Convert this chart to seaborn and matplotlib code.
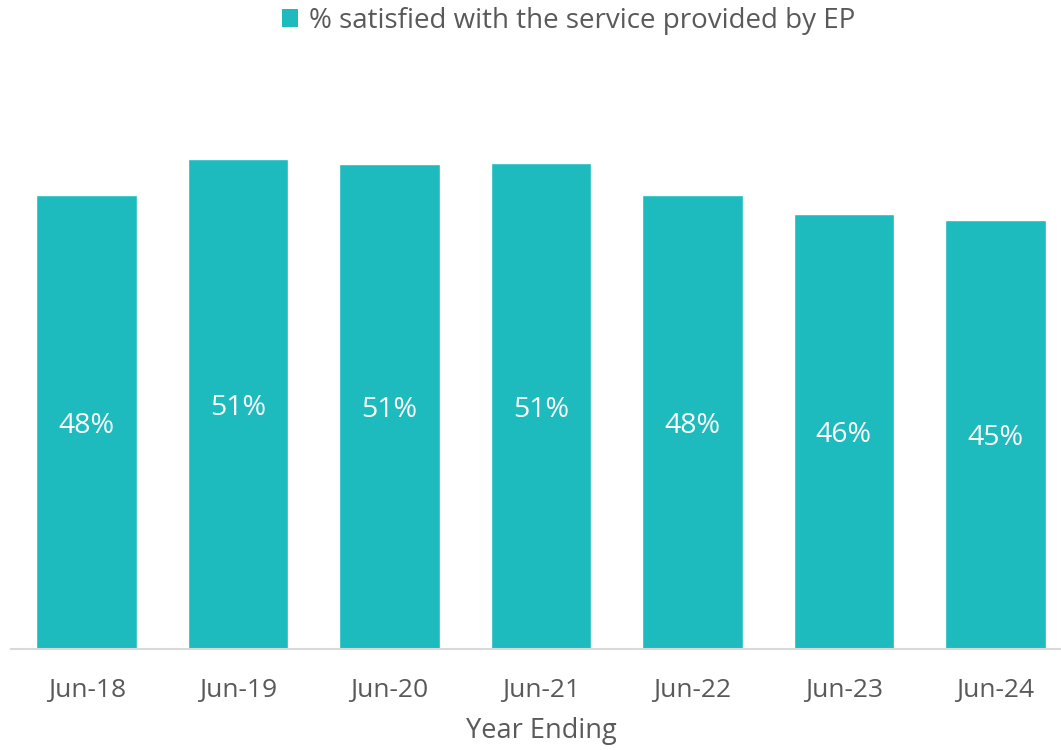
import numpy as np
import pandas as pd
import matplotlib
matplotlib.use('Agg')
import matplotlib.pyplot as plt
import seaborn as sns
from matplotlib.patches import Patch

# data
years = ['Jun-18', 'Jun-19', 'Jun-20', 'Jun-21', 'Jun-22', 'Jun-23', 'Jun-24']
satisfied = [48.0, 51.8, 51.3, 51.4, 48.0, 46.0, 45.4]
labels = ['48%', '51%', '51%', '51%', '48%', '46%', '45%']
series_name = '% satisfied with the service provided by EP'

BAR_COLOR = '#1DBABE'
TEXT_COLOR = '#595959'

sns.set_theme(style='white')
plt.rcParams['font.family'] = ['Open Sans', 'DejaVu Sans']

df = pd.DataFrame({'year': years, 'value': satisfied})

fig = plt.figure(figsize=(10.61, 7.5), dpi=100)
ax = fig.add_axes([11 / 1061, 101 / 750, 1060 / 1061, 567 / 750])

sns.barplot(data=df, x='year', y='value', color=BAR_COLOR, width=0.665,
            saturation=1, ax=ax)

# value labels in the middle of each bar
for i, (v, lab) in enumerate(zip(satisfied, labels)):
    ax.text(i, v / 2, lab, ha='center', va='center_baseline', color='white',
            fontsize=20.5)

ax.set_ylim(0, 60)
ax.set_xlim(-0.5, 6.5)
ax.set_yticks([])
ax.set_ylabel('')
ax.set_xlabel('Year Ending', fontsize=19.5, color=TEXT_COLOR, labelpad=10)
ax.tick_params(axis='x', length=0, labelsize=19, labelcolor=TEXT_COLOR, pad=21)
for s in ['top', 'right', 'left']:
    ax.spines[s].set_visible(False)
ax.spines['bottom'].set_color('#D9D9D9')
ax.spines['bottom'].set_linewidth(1.5)

handle = Patch(facecolor=BAR_COLOR, edgecolor='none')
fig.legend([handle], [series_name], loc='center', bbox_to_anchor=(0.536, 0.972),
           frameon=False, fontsize=20, labelcolor=TEXT_COLOR,
           handlelength=0.6, handleheight=0.6, handletextpad=0.4)

fig.savefig('out.png', dpi=100)
